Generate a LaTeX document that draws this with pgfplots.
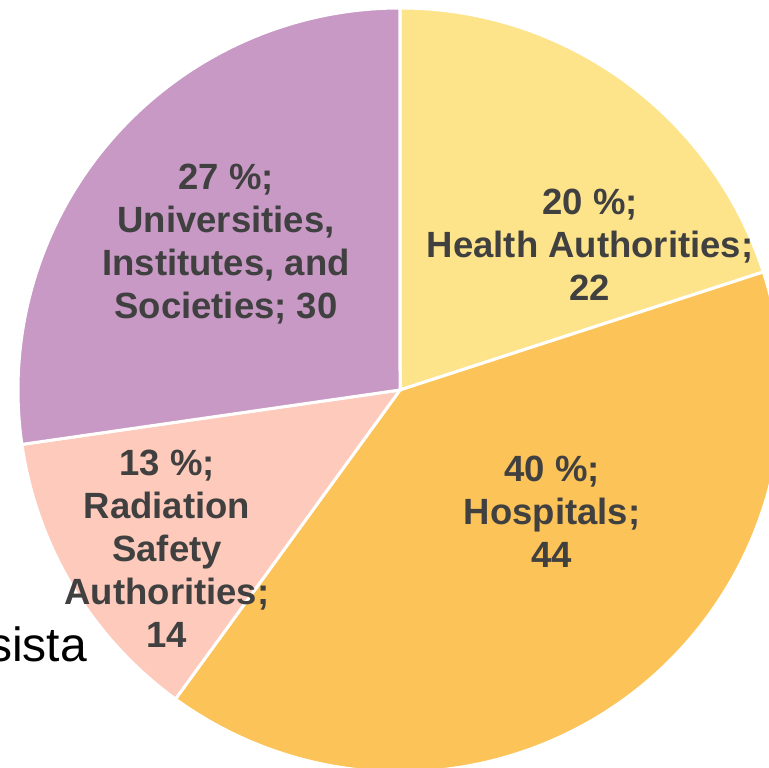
\documentclass[border=0pt]{standalone}
\usepackage{pgfplots}
\pgfplotsset{compat=1.18}
\usepackage{fontspec}
\setmainfont{Liberation Sans}
\definecolor{cHA}{HTML}{FDE48B}
\definecolor{cHO}{HTML}{FCC358}
\definecolor{cRA}{HTML}{FDCABB}
\definecolor{cUN}{HTML}{C899C5}
\definecolor{txt}{HTML}{404040}
\begin{document}
\begin{tikzpicture}
\useasboundingbox (0,0) rectangle (769pt,768pt);
\clip (0,0) rectangle (769pt,768pt);
% values: Health Authorities 22, Hospitals 44, Radiation Safety Authorities 14, Universities 30
\pgfmathsetmacro\tot{22+44+14+30}
\pgfmathsetmacro\aA{90}
\pgfmathsetmacro\aB{\aA-22/\tot*360}
\pgfmathsetmacro\aC{\aB-44/\tot*360}
\pgfmathsetmacro\aD{\aC-14/\tot*360}
\pgfmathsetmacro\aE{\aD-30/\tot*360}
\begin{axis}[at={(0pt,0pt)}, anchor=south west, width=769pt, height=768pt,
  scale only axis, xmin=0, xmax=769, ymin=0, ymax=768, hide axis, clip=false]
\filldraw[fill=cHA, draw=white, line width=3pt] (axis cs:400,378) -- ++(\aA:382pt) arc[start angle=\aA, end angle=\aB, radius=382pt] -- cycle;
\filldraw[fill=cHO, draw=white, line width=3pt] (axis cs:400,378) -- ++(\aB:382pt) arc[start angle=\aB, end angle=\aC, radius=382pt] -- cycle;
\filldraw[fill=cRA, draw=white, line width=3pt] (axis cs:400,378) -- ++(\aC:382pt) arc[start angle=\aC, end angle=\aD, radius=382pt] -- cycle;
\filldraw[fill=cUN, draw=white, line width=3pt] (axis cs:400,378) -- ++(\aD:382pt) arc[start angle=\aD, end angle=\aE, radius=382pt] -- cycle;
\tikzset{lab/.style={align=center, text=txt, font=\bfseries\fontsize{36.5}{43}\selectfont, inner sep=0pt}}
\node[lab] at (axis cs:590,523) {20 \%;\\Health Authorities;\\22};
\node[lab] at (axis cs:552,256) {40 \%;\\Hospitals;\\44};
\node[lab] at (axis cs:167,219) {13 \%;\\Radiation\\Safety\\Authorities;\\14};
\node[lab] at (axis cs:226,524) {27 \%;\\Universities,\\Institutes, and\\Societies; 30};
\node[anchor=base east, inner sep=0pt, font=\fontsize{48}{56}\selectfont] at (axis cs:87,106) {sista};
\end{axis}
\end{tikzpicture}
\end{document}
